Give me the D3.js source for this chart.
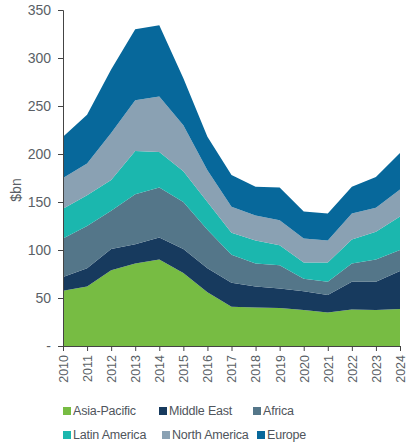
<!DOCTYPE html>
<meta charset="utf-8">
<style>
body { margin: 0; background: #fff; font-family: "Liberation Sans", Arial, sans-serif; }
.axis text { fill: #5a5f66; }
.axis path, .axis line { stroke: #444; }
.legend text { fill: #4f555c; font-size: 12.5px; letter-spacing: -0.2px; }
</style>
<body>
<script src="https://cdn.jsdelivr.net/npm/d3@7/dist/d3.min.js"></script>
<script>

var years = [2010, 2011, 2012, 2013, 2014, 2015, 2016, 2017, 2018, 2019, 2020, 2021, 2022, 2023, 2024];
var regions = ["Asia-Pacific", "Middle East", "Africa", "Latin America", "North America", "Europe"];
var asiaPacific  = [57.5, 62, 79, 86, 90, 76, 56, 41, 40, 39.5, 37.5, 35, 38, 37.5, 38.5];
var middleEast   = [14.5, 19, 22, 20, 23, 25, 25, 25, 22, 20.5, 19.5, 18, 29, 29.5, 39.5];
var africa       = [40, 44, 40, 52, 52, 49, 40, 29, 24, 24, 13, 14, 19, 23, 22];
var latinAmerica = [31, 32, 32, 45, 37, 32, 29, 23, 24, 21, 17, 20, 25, 29, 35];
var northAmerica = [32, 33, 49, 53, 58, 48, 33, 27, 26, 26, 25, 23, 27, 25, 28];
var europe       = [43, 51, 66, 74, 74, 49, 35, 33, 30, 34, 28, 28, 28, 32, 38];
var yTicks = [0, 50, 100, 150, 200, 250, 300, 350];

var colors = ["#77bc43", "#173a5e", "#547689", "#1bb7ae", "#8aa1b3", "#07689b"];

var seriesValues = [asiaPacific, middleEast, africa, latinAmerica, northAmerica, europe];

// rows for d3.stack
var data = years.map(function (y, i) {
  var row = {year: y};
  regions.forEach(function (r, j) { row[r] = seriesValues[j][i]; });
  return row;
});

var margin = {top: 10, right: 7, bottom: 102, left: 63},
    width = 407 - margin.left - margin.right,
    height = 448 - margin.top - margin.bottom;

var svg = d3.select("body").append("svg")
  .attr("width", 407)
  .attr("height", 448)
  .append("g")
  .attr("transform", "translate(" + margin.left + "," + margin.top + ")");

var x = d3.scaleLinear().domain([2010, 2024]).range([0, width]);
var y = d3.scaleLinear().domain([0, 350]).range([height, 0]);

var stacked = d3.stack().keys(regions)(data);

var area = d3.area()
  .x(function (d) { return x(d.data.year); })
  .y0(function (d) { return y(d[0]); })
  .y1(function (d) { return y(d[1]); });

svg.selectAll(".layer")
  .data(stacked)
  .enter()
  .append("path")
  .attr("class", "layer")
  .attr("fill", function (d, i) { return colors[i]; })
  .attr("d", area);

// y axis
var yAxis = svg.append("g")
  .attr("class", "axis")
  .call(d3.axisLeft(y).tickValues(yTicks).tickSize(5).tickPadding(7)
    .tickFormat(function (d) { return d === 0 ? "-" : d; }));
yAxis.selectAll("text").style("font-size", "14px");

// x axis
var xAxis = svg.append("g")
  .attr("class", "axis")
  .attr("transform", "translate(0," + height + ")")
  .call(d3.axisBottom(x).tickValues(years).tickFormat(d3.format("d")).tickSize(5).tickSizeOuter(0));
xAxis.selectAll("text")
  .style("font-size", "12.5px")
  .attr("transform", "rotate(-90)")
  .attr("text-anchor", "end")
  .attr("x", -9)
  .attr("y", 0)
  .attr("dy", "0.35em");

svg.append("text")
  .attr("transform", "translate(" + (-47) + "," + (height / 2 + 12) + ") rotate(-90)")
  .attr("text-anchor", "middle")
  .attr("dy", "0.35em")
  .style("font-size", "14px")
  .style("fill", "#5a5f66")
  .text("$bn");

// legend
var legendPos = [[0, 0], [96, 0], [190, 0], [0, 24], [99, 24], [194, 24]];
var legend = svg.append("g")
  .attr("class", "legend")
  .attr("transform", "translate(0," + (height + 65) + ")");

var item = legend.selectAll("g")
  .data(regions)
  .enter()
  .append("g")
  .attr("transform", function (d, i) { return "translate(" + legendPos[i][0] + "," + legendPos[i][1] + ")"; });

item.append("rect")
  .attr("x", 0).attr("y", -4)
  .attr("width", 8).attr("height", 8)
  .attr("fill", function (d, i) { return colors[i]; });

item.append("text")
  .attr("x", 10)
  .attr("dy", "0.35em")
  .text(function (d) { return d; });

</script>
</body>
